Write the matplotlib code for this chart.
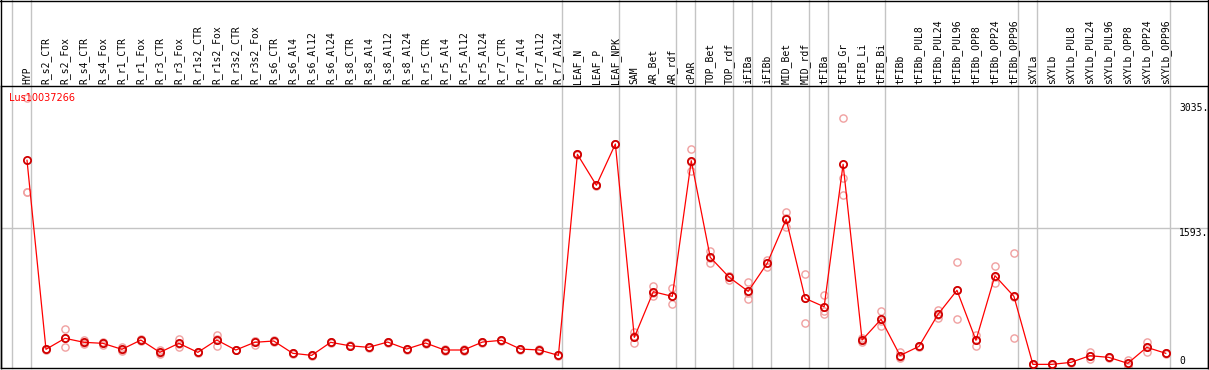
import numpy as np
import matplotlib.pyplot as plt
from matplotlib.lines import Line2D

# sample names, grouped as in the header
labels = ['HYP',
          'R_s2_CTR', 'R_s2_Fox', 'R_s4_CTR', 'R_s4_Fox', 'R_r1_CTR', 'R_r1_Fox', 'R_r3_CTR', 'R_r3_Fox',
          'R_r1s2_CTR', 'R_r1s2_Fox', 'R_r3s2_CTR', 'R_r3s2_Fox', 'R_s6_CTR', 'R_s6_Al4', 'R_s6_Al12',
          'R_s6_Al24', 'R_s8_CTR', 'R_s8_Al4', 'R_s8_Al12', 'R_s8_Al24', 'R_r5_CTR', 'R_r5_Al4', 'R_r5_Al12',
          'R_r5_Al24', 'R_r7_CTR', 'R_r7_Al4', 'R_r7_Al12', 'R_r7_Al24',
          'LEAF_N', 'LEAF_P', 'LEAF_NPK',
          'SAM', 'AR_Bet', 'AR_rdf',
          'cPAR',
          'TOP_Bet', 'TOP_rdf',
          'iFIBa',
          'iFIBb',
          'MID_Bet', 'MID_rdf',
          'tFIBa',
          'tFIB_Gr', 'tFIB_Li', 'tFIB_Bi',
          'tFIBb', 'tFIBb_PUL8', 'tFIBb_PUL24', 'tFIBb_PUL96', 'tFIBb_OPP8', 'tFIBb_OPP24', 'tFIBb_OPP96',
          'sXYLa',
          'sXYLb', 'sXYLb_PUL8', 'sXYLb_PUL24', 'sXYLb_PUL96', 'sXYLb_OPP8', 'sXYLb_OPP24', 'sXYLb_OPP96']
group_sizes = [1, 28, 3, 3, 1, 2, 1, 1, 2, 1, 3, 7, 1, 7]

means = [2376, 191, 318, 272, 260, 191, 298, 156, 260, 156,
         298, 183, 272, 287, 145, 121, 272, 232, 214, 275,
         194, 264, 183, 183, 275, 295, 194, 183, 121, 2445,
         2087, 2564, 329, 857, 803, 2371, 1254, 1023, 861, 1185,
         1694, 780, 683, 2330, 298, 538, 119, 225, 595, 873,
         295, 1042, 803, 17, 17, 40, 117, 98, 29, 214, 145]
rep_a = [3100, 198, 422, 298, 279, 214, 306, 183, 306, 162,
         356, 188, 290, 294, 150, 126, 279, 238, 220, 281,
         200, 270, 189, 189, 281, 301, 200, 189, 127, 2450,
         2092, 2569, 387, 923, 896, 2503, 1327, 1038, 969, 1223,
         1775, 1061, 818, 2861, 324, 634, 156, 232, 645, 1203,
         356, 1150, 1301, 19, 19, 45, 156, 104, 67, 272, 150]
rep_b = [2013, 184, 214, 255, 237, 183, 290, 133, 221, 150,
         232, 178, 240, 280, 140, 116, 265, 226, 208, 269,
         188, 258, 177, 177, 269, 289, 188, 177, 115, 2440,
         2082, 2559, 260, 810, 711, 2249, 1185, 992, 769, 1146,
         1601, 495, 595, 2168, 272, 464, 94, 218, 549, 538,
         232, 954, 318, 15, 15, 35, 79, 92, 1, 156, 140]
rep_c = [2013, 191, 318, 263, 264, 176, 298, 152, 253, 156,
         306, 183, 286, 287, 145, 121, 272, 232, 214, 275,
         194, 264, 183, 183, 275, 295, 194, 183, 121, 2445,
         2087, 2564, 340, 838, 802, 2361, 1250, 1039, 845, 1186,
         1706, 784, 636, 1971, 298, 516, 107, 225, 591, 878,
         297, 1022, 790, 17, 17, 40, 116, 98, 19, 214, 145]
ref_ticks = [0, 1593, 3035]
gene = 'Lus10037266'

W, H = 1209, 370
fig = plt.figure(figsize=(W / 100, H / 100), dpi=100)
# plot box: x 1..1207.5 px, y 85.7..368 px (from top)
ax = fig.add_axes([1 / W, (H - 368) / H, 1206.5 / W, (368 - 85.7) / H])

x = np.arange(len(labels))
ax.set_xlim(-1.37, 62.2)
ax.set_ylim(-25, 3238)

grey = '#c4c4c4'
# group separators, run through the header too
bounds = [-0.8] + list(np.cumsum(group_sizes) - 1 + 0.2)
for b in bounds:
    ax.axvline(b, 0, 368 / (368 - 85.7), color=grey, lw=1.0, clip_on=False, zorder=1)
ax.axhline(ref_ticks[1], color=grey, lw=1.0, zorder=1)

for rep in (rep_a, rep_b, rep_c):
    ax.plot(x, rep, 'o', ms=5.2, mfc='none', mec='#f0a0a0', mew=1.0, zorder=2)
ax.plot(x, means, '-', color='red', lw=0.9, zorder=3)
ax.plot(x, means, 'o', ms=5.2, mfc='none', mec='#d00000', mew=1.3, zorder=4)

for sp in ax.spines.values():
    sp.set_color('black')
    sp.set_linewidth(1.0)
ax.set_xticks([])
ax.set_yticks([])

mono = 'DejaVu Sans Mono'
for i, lab in enumerate(labels):
    ax.annotate(lab, (i, 1.0), xycoords=('data', 'axes fraction'), xytext=(0, 2),
                textcoords='offset pixels', rotation=90, ha='center', va='bottom',
                fontsize=7, family=mono, color='black')

lx = 60.7
ax.text(lx, ref_ticks[2], '%d.' % ref_ticks[2], ha='left', va='top', fontsize=7, family=mono)
ax.text(lx, ref_ticks[1], '%d.' % ref_ticks[1], ha='left', va='top', fontsize=7, family=mono)
ax.text(lx, ref_ticks[0], '%d' % ref_ticks[0], ha='left', va='bottom', fontsize=7, family=mono)

ax.text(0.0066, 0.9575, gene, transform=ax.transAxes, ha='left', va='center',
        fontsize=7, color='red', family='DejaVu Sans')

# outer frame of the image
fig.add_artist(Line2D([0, 1], [1 - 0.5 / H, 1 - 0.5 / H], color='black', lw=1.0))
fig.add_artist(Line2D([0.5 / W, 0.5 / W], [(H - 368) / H, 1], color='black', lw=1.0))
fig.add_artist(Line2D([1207.5 / W, 1207.5 / W], [(H - 368) / H, 1], color='black', lw=1.0))

fig.savefig('out.png', dpi=100)
